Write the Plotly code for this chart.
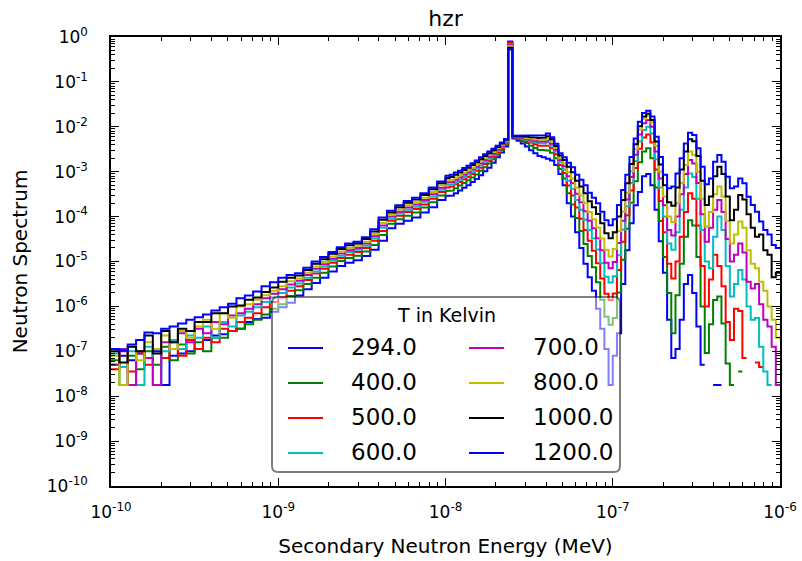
import numpy as np
import plotly.graph_objects as go

# Temperatures (K) and their line colours
temperatures = ["294.0", "400.0", "500.0", "600.0", "700.0", "800.0", "1000.0", "1200.0"]
line_colors = ["#0000ff", "#008000", "#ff0000", "#00bfbf", "#bf00bf", "#bfbf00", "#000000", "#0000ff"]

# Energy bin edges, log10(MeV): 20 bins/decade below 1e-8 MeV, 40 bins/decade above
log_edges = np.concatenate([np.linspace(-10.0, -8.0, 41)[:-1], np.linspace(-8.0, -6.0, 81)])
energy_edges = 10.0 ** log_edges

# log10 of the secondary neutron spectrum in each energy bin (None = empty bin)
spec_294 = [
    -7.30, -7.10, -7.20, -7.05, -7.15, -7.00, -7.75, -7.10, -7.05, -7.00,
    -6.95, -6.75, -6.65, -6.62, -6.55, -6.50, -6.35, -6.28, -6.25, -6.12,
    -6.02, -5.92, -5.76, -5.62, -5.48, -5.36, -5.22, -5.10, -5.03, -4.97,
    -4.88, -4.74, -4.54, -4.26, -4.16, -4.09, -4.02, -3.91, -3.79, -3.63,
    -3.54, -3.53, -3.48, -3.42, -3.36, -3.30, -3.23, -3.16, -3.08, -2.99,
    -2.91, -2.80, -2.68, -2.57, -2.44, -0.10, -2.26, -2.31, -2.37, -2.44,
    -2.52, -2.59, -2.65, -2.68, -2.71, -2.75, -2.85, -3.05, -3.30, -3.70,
    -4.00, -4.35, -4.70, -5.05, -5.35, -5.65, -6.05, -6.50, -6.95, -7.75,
    -7.10, -6.60, -5.50, -4.75, -4.15, -3.75, -3.45, -3.10, -3.05, -3.30,
    -3.85, -4.55, -5.25, -6.30, -7.15, -6.95, -6.30, -5.50, -5.30, -5.70,
    -6.45, -7.30, None, None, -7.75, -7.75, None, None, None, None,
    None, None, None, None, None, None, None, None, None, None,
]
spec_400 = [
    -7.20, -7.75, -7.10, -7.40, -7.00, -7.30, -6.90, -7.20, -6.85, -7.05,
    -6.80, -7.00, -6.70, -6.70, -6.55, -6.50, -6.40, -6.30, -6.18, -6.05,
    -5.95, -5.77, -5.64, -5.50, -5.36, -5.25, -5.11, -4.99, -4.92, -4.87,
    -4.78, -4.63, -4.41, -4.16, -4.06, -3.98, -3.91, -3.80, -3.68, -3.53,
    -3.43, -3.42, -3.37, -3.31, -3.25, -3.19, -3.13, -3.06, -2.98, -2.90,
    -2.82, -2.72, -2.62, -2.52, -2.40, -0.12, -2.24, -2.27, -2.32, -2.36,
    -2.42, -2.47, -2.51, -2.52, -2.53, -2.58, -2.70, -2.94, -3.15, -3.48,
    -3.73, -4.03, -4.32, -4.61, -4.88, -5.13, -5.46, -5.85, -6.23, -6.41,
    -6.26, -5.69, -4.96, -4.27, -3.69, -3.21, -2.79, -2.55, -2.48, -2.70,
    -3.35, -4.10, -4.90, -5.70, -6.60, -5.75, -5.05, -4.45, -4.08, -4.20,
    -4.90, -6.00, -7.04, -6.40, -5.86, -5.78, -6.38, -7.27, -7.75, None,
    -7.45, None, None, None, None, None, None, None, None, None,
]
spec_500 = [
    -7.40, -7.00, -7.45, -7.05, -7.30, -6.95, -7.15, -6.80, -7.10, -6.75,
    -6.95, -6.70, -6.80, -6.50, -6.55, -6.35, -6.25, -6.15, -6.02, -5.90,
    -5.80, -5.65, -5.55, -5.41, -5.27, -5.16, -5.03, -4.92, -4.85, -4.79,
    -4.70, -4.54, -4.32, -4.09, -3.98, -3.90, -3.83, -3.73, -3.60, -3.45,
    -3.35, -3.33, -3.28, -3.23, -3.17, -3.12, -3.05, -2.98, -2.91, -2.83,
    -2.76, -2.67, -2.57, -2.48, -2.37, -0.14, -2.23, -2.25, -2.28, -2.32,
    -2.35, -2.39, -2.42, -2.43, -2.42, -2.48, -2.61, -2.85, -3.03, -3.31,
    -3.53, -3.80, -4.05, -4.30, -4.54, -4.76, -5.04, -5.38, -5.72, -5.86,
    -5.71, -5.19, -4.56, -3.97, -3.42, -2.92, -2.49, -2.24, -2.17, -2.35,
    -2.95, -3.65, -4.35, -5.05, -5.38, -5.00, -4.45, -3.90, -3.48, -3.60,
    -4.20, -5.10, -6.00, -5.40, -4.85, -5.10, -5.55, -6.35, -6.75, -6.05,
    -6.10, -7.15, None, None, -7.25, -7.35, None, None, None, None,
]
spec_600 = [
    -7.05, -7.35, -7.00, -7.75, -6.90, -7.75, -7.00, -6.75, -6.95, -6.65,
    -6.70, -6.45, -6.70, -6.35, -6.45, -6.20, -6.12, -6.02, -5.90, -5.80,
    -5.70, -5.58, -5.49, -5.36, -5.22, -5.11, -4.98, -4.87, -4.79, -4.74,
    -4.65, -4.49, -4.25, -4.05, -3.93, -3.85, -3.78, -3.67, -3.55, -3.40,
    -3.29, -3.28, -3.23, -3.18, -3.12, -3.06, -3.00, -2.93, -2.86, -2.78,
    -2.71, -2.63, -2.54, -2.45, -2.35, -0.16, -2.22, -2.24, -2.26, -2.29,
    -2.32, -2.34, -2.36, -2.37, -2.35, -2.42, -2.55, -2.79, -2.95, -3.20,
    -3.38, -3.63, -3.85, -4.07, -4.30, -4.49, -4.73, -5.04, -5.34, -5.47,
    -5.33, -4.86, -4.29, -3.77, -3.25, -2.76, -2.32, -2.07, -2.00, -2.15,
    -2.72, -3.35, -4.00, -4.60, -4.74, -4.35, -3.85, -3.35, -3.04, -3.12,
    -3.60, -4.30, -5.00, -5.15, -4.45, -4.00, -4.30, -5.10, -5.78, -5.50,
    -5.19, -5.40, -6.00, -6.30, -6.26, -6.90, -7.45, -7.75, None, None,
]
spec_700 = [
    -7.30, -6.95, -7.75, -7.00, -7.15, -7.75, -6.80, -6.95, -6.60, -6.80,
    -6.50, -6.60, -6.35, -6.40, -6.20, -6.15, -6.05, -5.95, -5.82, -5.72,
    -5.62, -5.51, -5.43, -5.30, -5.16, -5.06, -4.94, -4.82, -4.75, -4.70,
    -4.60, -4.44, -4.20, -4.00, -3.89, -3.80, -3.73, -3.63, -3.50, -3.36,
    -3.24, -3.23, -3.18, -3.13, -3.07, -3.02, -2.95, -2.89, -2.82, -2.74,
    -2.67, -2.60, -2.51, -2.42, -2.33, -0.18, -2.22, -2.23, -2.25, -2.27,
    -2.29, -2.31, -2.33, -2.33, -2.31, -2.38, -2.51, -2.74, -2.88, -3.10,
    -3.26, -3.49, -3.68, -3.88, -4.09, -4.26, -4.48, -4.75, -5.03, -5.15,
    -5.01, -4.59, -4.09, -3.62, -3.12, -2.62, -2.17, -1.92, -1.85, -2.00,
    -2.55, -3.15, -3.75, -4.30, -4.42, -4.00, -3.50, -3.05, -2.74, -2.82,
    -3.25, -3.95, -4.56, -4.25, -3.85, -3.63, -3.90, -4.50, -5.00, -4.85,
    -4.60, -4.80, -5.45, -5.60, -5.50, -5.95, -6.30, -6.45, -6.90, -7.75,
]
spec_800 = [
    -7.10, -7.75, -6.90, -7.20, -6.80, -6.95, -6.65, -6.95, -6.55, -6.70,
    -6.45, -6.30, -6.50, -6.15, -6.25, -6.00, -5.95, -5.85, -5.75, -5.65,
    -5.55, -5.44, -5.38, -5.25, -5.11, -5.01, -4.89, -4.78, -4.70, -4.65,
    -4.56, -4.39, -4.14, -3.96, -3.84, -3.75, -3.68, -3.58, -3.45, -3.31,
    -3.19, -3.18, -3.13, -3.08, -3.02, -2.97, -2.91, -2.84, -2.77, -2.70,
    -2.63, -2.56, -2.48, -2.40, -2.31, -0.20, -2.21, -2.22, -2.23, -2.25,
    -2.26, -2.28, -2.29, -2.29, -2.26, -2.33, -2.47, -2.70, -2.82, -3.01,
    -3.15, -3.36, -3.53, -3.70, -3.90, -4.06, -4.24, -4.49, -4.74, -4.89,
    -4.72, -4.32, -3.89, -3.47, -2.99, -2.50, -2.06, -1.82, -1.75, -1.90,
    -2.42, -3.00, -3.55, -4.00, -4.12, -3.70, -3.25, -2.85, -2.55, -2.62,
    -3.00, -3.60, -4.22, -3.90, -3.50, -3.33, -3.55, -4.10, -4.60, -4.40,
    -4.11, -4.25, -4.75, -5.05, -5.15, -5.45, -5.65, -6.00, -6.30, -6.70,
]
spec_1000 = [
    -7.00, -7.25, -6.90, -7.00, -6.65, -7.05, -6.55, -6.80, -6.50, -6.55,
    -6.35, -6.35, -6.15, -6.15, -6.00, -5.98, -5.85, -5.80, -5.68, -5.58,
    -5.45, -5.36, -5.31, -5.19, -5.05, -4.95, -4.83, -4.72, -4.64, -4.60,
    -4.50, -4.33, -4.07, -3.91, -3.79, -3.69, -3.62, -3.52, -3.39, -3.26,
    -3.14, -3.12, -3.07, -3.02, -2.96, -2.91, -2.85, -2.79, -2.72, -2.65,
    -2.59, -2.52, -2.45, -2.37, -2.29, -0.24, -2.21, -2.21, -2.22, -2.22,
    -2.23, -2.24, -2.25, -2.24, -2.21, -2.28, -2.43, -2.64, -2.74, -2.89,
    -3.01, -3.20, -3.33, -3.48, -3.66, -3.79, -3.94, -4.15, -4.37, -4.48,
    -4.35, -4.00, -3.63, -3.26, -2.83, -2.39, -1.99, -1.77, -1.71, -1.85,
    -2.33, -2.84, -3.30, -3.68, -3.76, -3.35, -2.95, -2.55, -2.28, -2.32,
    -2.65, -3.20, -3.74, -3.55, -3.10, -2.89, -3.05, -3.55, -4.08, -3.85,
    -3.52, -3.62, -3.95, -4.25, -4.45, -4.40, -4.75, -4.85, -5.35, -5.25,
]
spec_1200 = [
    -6.95, -6.98, -6.85, -6.75, -6.58, -6.60, -6.50, -6.45, -6.38, -6.30,
    -6.24, -6.18, -6.09, -6.02, -5.94, -5.82, -5.76, -5.67, -5.55, -5.46,
    -5.36, -5.30, -5.26, -5.14, -5.00, -4.90, -4.79, -4.68, -4.60, -4.56,
    -4.46, -4.28, -4.02, -3.87, -3.75, -3.65, -3.58, -3.48, -3.35, -3.22,
    -3.09, -3.07, -3.02, -2.98, -2.92, -2.87, -2.81, -2.75, -2.68, -2.61,
    -2.55, -2.49, -2.42, -2.35, -2.27, -0.28, -2.20, -2.20, -2.20, -2.20,
    -2.20, -2.20, -2.20, -2.19, -2.15, -2.23, -2.38, -2.59, -2.68, -2.80,
    -2.90, -3.07, -3.18, -3.30, -3.47, -3.58, -3.70, -3.89, -4.08, -4.19,
    -4.06, -3.74, -3.41, -3.07, -2.67, -2.26, -1.89, -1.69, -1.64, -1.77,
    -2.22, -2.67, -3.07, -3.37, -3.33, -3.04, -2.70, -2.37, -2.13, -2.18,
    -2.48, -2.89, -3.28, -3.15, -2.78, -2.63, -2.78, -3.11, -3.37, -3.33,
    -3.15, -3.26, -3.56, -3.74, -3.89, -4.11, -4.30, -4.40, -4.63, -4.70,
]

spectra = [spec_294, spec_400, spec_500, spec_600, spec_700, spec_800, spec_1000, spec_1200]
n_bins = len(energy_edges) - 1
for s in spectra:
    assert len(s) == n_bins, len(s)


def step_xy(log_values):
    """Histogram outline: one flat segment per bin, broken where a bin is empty."""
    xs, ys = [], []
    for k, v in enumerate(log_values):
        if v is None:
            xs.append(energy_edges[k])
            ys.append(None)
        else:
            xs.extend([energy_edges[k], energy_edges[k + 1]])
            ys.extend([10.0 ** v, 10.0 ** v])
    return xs, ys


W, H = 802, 561
ML, MR, MT, MB = 111, 22, 37, 75
PW, PH = W - ML - MR, H - MT - MB
FONT = "DejaVu Sans"


def px_x(x):
    return (x - ML) / PW


def px_y(y):
    return (H - MB - y) / PH


fig = go.Figure()
for name, color, spec in zip(temperatures, line_colors, spectra):
    xs, ys = step_xy(spec)
    fig.add_trace(go.Scatter(x=xs, y=ys, mode="lines", name=name,
                             line=dict(color=color, width=2), connectgaps=False))

x_exps = list(range(-10, -5))
y_exps = list(range(-10, 1))
x_minor = [m * 10.0 ** e for e in range(-10, -6) for m in range(2, 10)]
y_minor = [m * 10.0 ** e for e in range(-10, 0) for m in range(2, 10)]

axis_common = dict(
    type="log", showline=True, linecolor="black", linewidth=1.5, mirror="allticks",
    ticks="inside", ticklen=8, tickwidth=1, tickcolor="black",
    showgrid=False, zeroline=False, tickmode="array",
    tickfont=dict(family=FONT, size=17, color="black"),
)
fig.update_xaxes(
    **axis_common, range=[-10, -6],
    tickvals=[10.0 ** e for e in x_exps], ticktext=[f"10<sup>{e}</sup>" for e in x_exps],
    minor=dict(tickmode="array", tickvals=x_minor, ticks="inside", ticklen=4,
               tickwidth=1, tickcolor="black", showgrid=False),
    ticklabelstandoff=10,
    title=dict(text="Secondary Neutron Energy (MeV)", font=dict(family=FONT, size=20), standoff=18),
)
fig.update_yaxes(
    **axis_common, range=[-10, 0],
    tickvals=[10.0 ** e for e in y_exps], ticktext=[f"10<sup>{e}</sup>" for e in y_exps],
    minor=dict(tickmode="array", tickvals=y_minor, ticks="inside", ticklen=4,
               tickwidth=1, tickcolor="black", showgrid=False),
    ticklabelstandoff=18,
    title=dict(text="Neutron Spectrum", font=dict(family=FONT, size=20), standoff=14),
)

# Legend: semi-transparent rounded box with two columns of entries
bx0, bx1, by0, by1 = px_x(272), px_x(620), px_y(472), px_y(297)
rx, ry = 6 / PW, 6 / PH
box_path = (
    f"M {bx0 + rx},{by1} L {bx1 - rx},{by1} Q {bx1},{by1} {bx1},{by1 - ry} "
    f"L {bx1},{by0 + ry} Q {bx1},{by0} {bx1 - rx},{by0} L {bx0 + rx},{by0} "
    f"Q {bx0},{by0} {bx0},{by0 + ry} L {bx0},{by1 - ry} Q {bx0},{by1} {bx0 + rx},{by1} Z"
)
shapes = [dict(type="path", xref="paper", yref="paper", path=box_path, layer="above",
               fillcolor="rgba(255,255,255,0.5)", line=dict(color="rgba(0,0,0,0.5)", width=2))]
annotations = [dict(text="T in Kelvin", x=px_x(446), y=px_y(315), xref="paper", yref="paper",
                    showarrow=False, xanchor="center", yanchor="middle",
                    font=dict(family=FONT, size=19, color="black"))]
row_y = [348, 383, 418, 453]
col_line_x = [(288, 323), (469, 504)]
col_text_x = [349, 531]
for idx, (name, color) in enumerate(zip(temperatures, line_colors)):
    col, row = divmod(idx, 4)
    yy = px_y(row_y[row])
    shapes.append(dict(type="line", xref="paper", yref="paper", layer="above",
                       x0=px_x(col_line_x[col][0]), x1=px_x(col_line_x[col][1]), y0=yy, y1=yy,
                       line=dict(color=color, width=2)))
    annotations.append(dict(text=name, x=px_x(col_text_x[col]), y=px_y(row_y[row] - 1),
                            xref="paper", yref="paper", showarrow=False,
                            xanchor="left", yanchor="middle",
                            font=dict(family=FONT, size=23, color="black")))

fig.update_layout(
    width=W, height=H,
    margin=dict(l=ML, r=MR, t=MT, b=MB, autoexpand=False),
    paper_bgcolor="white", plot_bgcolor="white",
    showlegend=False,
    font=dict(family=FONT, color="black"),
    title=dict(text="hzr", x=0.5, xref="paper", xanchor="center",
               y=1 - 18 / H, yref="container", yanchor="middle",
               font=dict(family=FONT, size=22, color="black")),
    shapes=shapes, annotations=annotations,
)

fig.write_html("out.html")
